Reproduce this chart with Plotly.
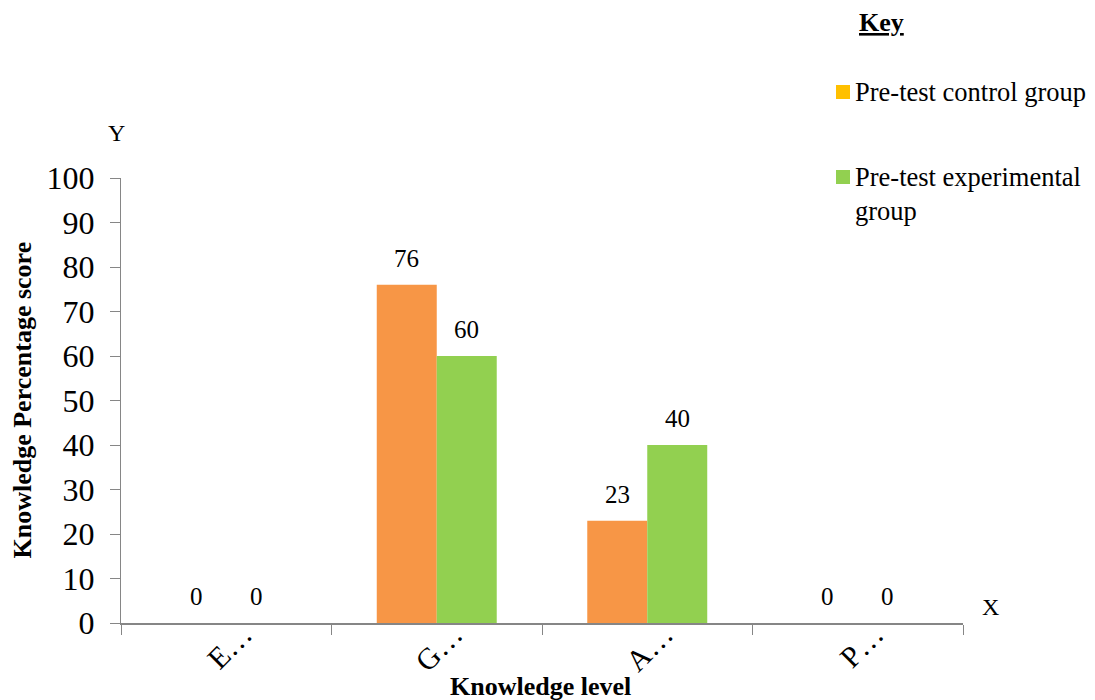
import plotly.graph_objects as go

categories = ["Excellent", "Good", "Average", "Poor"]
tick_labels = ["E…", "G…", "A…", "P…"]
control_scores = [0, 76, 23, 0]
experimental_scores = [0, 60, 40, 0]
series_names = ["Pre-test control group", "Pre-test experimental group"]

SERIF = "Liberation Serif, Times New Roman, serif"
AXIS_GREY = "#868686"
BAR_GAP = 0.43
SERIES_COLORS = ["#F79646", "#92D050"]

fig = go.Figure()
for name, values, color in zip(series_names, [control_scores, experimental_scores], SERIES_COLORS):
    fig.add_trace(go.Bar(x=categories, y=values, name=name,
                         marker=dict(color=color, line=dict(width=0))))

fig.update_layout(
    width=1095, height=700,
    margin=dict(l=121, r=132, t=178, b=77),
    paper_bgcolor="white", plot_bgcolor="white",
    barmode="group", bargap=BAR_GAP, bargroupgap=0,
    showlegend=False,
    font=dict(family=SERIF, color="#000000"),
    xaxis=dict(
        type="category", tickmode="array", tickvals=categories, ticktext=tick_labels,
        tickangle=-45, tickfont=dict(family=SERIF, size=30),
        ticklabelshift=17, ticklabelstandoff=-20,
        showline=True, linecolor=AXIS_GREY, linewidth=2, automargin=False,
        ticks="outside", tickson="boundaries", ticklen=10, tickcolor=AXIS_GREY, tickwidth=1,
        showgrid=False, zeroline=False,
    ),
    yaxis=dict(
        range=[0, 100], dtick=10, tickfont=dict(family=SERIF, size=32),
        showline=True, linecolor=AXIS_GREY, linewidth=1, automargin=False,
        ticks="outside", ticklen=10, tickcolor=AXIS_GREY, ticklabelstandoff=9,
        showgrid=False, zeroline=False,
    ),
)

# Value labels above each bar (category index +/- half a bar width)
half_bar = (1 - BAR_GAP) / 4
for side, values in zip([-1, 1], [control_scores, experimental_scores]):
    for i, v in enumerate(values):
        fig.add_annotation(x=i + side * half_bar, y=v, xref="x", yref="y",
                           text=str(v), showarrow=False, yanchor="bottom", yshift=11,
                           font=dict(family=SERIF, size=25, color="#000000"))

# Axis titles and axis letters
fig.add_annotation(text="<b>Knowledge level</b>", xref="paper", yref="paper",
                   x=0.498, y=0, yshift=-63, showarrow=False,
                   font=dict(family=SERIF, size=26), xanchor="center", yanchor="middle")
fig.add_annotation(text="<b>Knowledge Percentage score</b>", xref="paper", yref="paper",
                   x=0, xshift=-99, y=0.5, textangle=-90, showarrow=False,
                   font=dict(family=SERIF, size=26), xanchor="center", yanchor="middle")
fig.add_annotation(text="Y", xref="paper", yref="paper", x=0, xshift=-5, y=1, yshift=45,
                   showarrow=False, font=dict(family=SERIF, size=24),
                   xanchor="center", yanchor="middle")
fig.add_annotation(text="X", xref="paper", yref="paper", x=1, xshift=27, y=0, yshift=16,
                   showarrow=False, font=dict(family=SERIF, size=24),
                   xanchor="center", yanchor="middle")

# Key
fig.add_annotation(text="<b><u>Key</u></b>", xref="paper", yref="paper",
                   x=1, xshift=-106, y=1, yshift=156, showarrow=False,
                   font=dict(family=SERIF, size=26), xanchor="left", yanchor="middle")
key_items = [
    ("#FFC000", [series_names[0]], 86),
    ("#92D050", ["Pre-test experimental", "group"], 1),
]
for color, lines, dy in key_items:
    fig.add_shape(type="rect", xref="paper", yref="paper",
                  xsizemode="pixel", ysizemode="pixel", xanchor=1, yanchor=1,
                  x0=-127, x1=-113, y0=dy - 7, y1=dy + 7,
                  fillcolor=color, line=dict(width=0))
    fig.add_annotation(text="<br>".join(lines), xref="paper", yref="paper",
                       x=1, xshift=-110, y=1, yshift=dy + 17, showarrow=False, align="left",
                       font=dict(family=SERIF, size=26.5), xanchor="left", yanchor="top")

fig.write_html("out.html")
